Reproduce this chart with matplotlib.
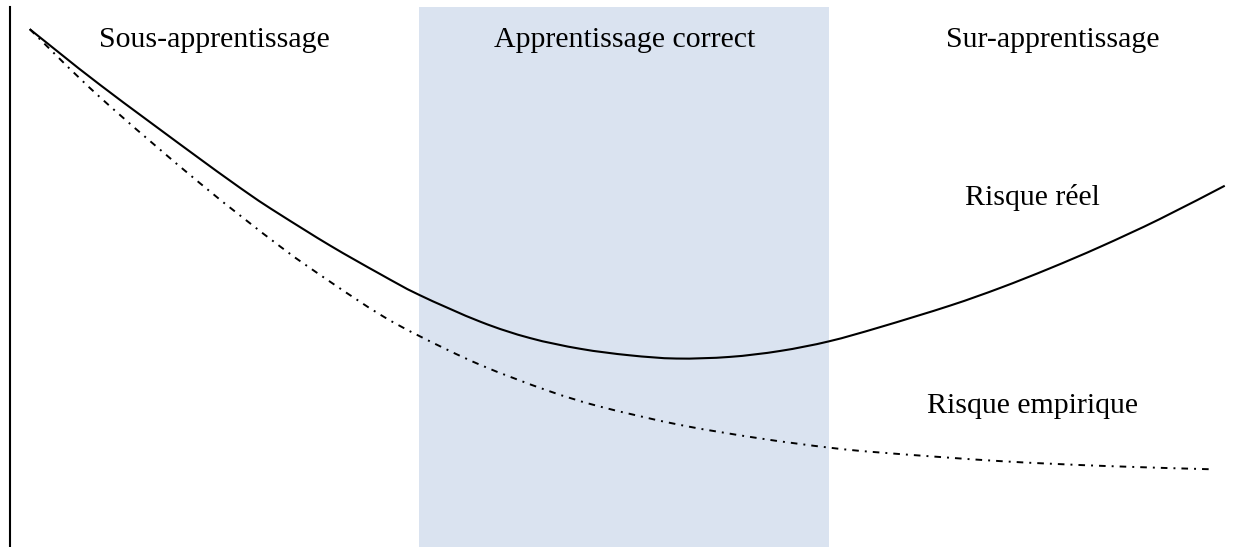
import numpy as np
import matplotlib.pyplot as plt
from matplotlib.path import Path
from matplotlib.patches import PathPatch

# model complexity (0-100) and risk (0-100)
complexity_reel = [1.6, 7.3, 15.4, 19.5, 21.9, 26.0, 30.0, 33.2, 38.2, 42.2, 46.3, 50.3,
                   54.1, 58.4, 62.5, 66.5, 70.6, 76.3, 80.4, 84.4, 88.5, 93.3, 98.6]
risque_reel = [95.9, 85.6, 71.9, 65.2, 61.6, 55.8, 50.6, 46.7, 41.7, 38.7, 36.7, 35.5,
               34.9, 35.2, 36.3, 38.1, 40.7, 44.7, 48.0, 51.6, 55.6, 60.7, 66.9]

complexity_emp = [1.6, 7.3, 15.4, 21.9, 26.0, 30.0, 33.2, 38.2, 43.6, 47.9, 54.4,
                  60.9, 66.5, 70.6, 80.4, 88.9, 97.4]
risque_emp = [95.9, 83.3, 67.4, 55.7, 49.1, 43.1, 39.1, 33.7, 29.0, 26.0, 22.6,
              20.1, 18.4, 17.5, 15.9, 15.0, 14.4]

zone_correcte = (33.2, 66.5)

zone_labels = ['Sous-apprentissage', 'Apprentissage correct', 'Sur-apprentissage']
zone_label_x = [16.6, 49.9, 84.6]
curve_labels = ['Risque réel', 'Risque empirique']
curve_label_x = [83.0, 83.0]
curve_label_y = [63.3, 24.8]


def smooth_path(xs, ys):
    # catmull-rom through the points, drawn as cubic bezier segments
    p = np.column_stack([xs, ys]).astype(float)
    verts = [p[0]]
    codes = [Path.MOVETO]
    n = len(p)
    for i in range(n - 1):
        p0 = p[i - 1] if i > 0 else p[i]
        p3 = p[i + 2] if i + 2 < n else p[i + 1]
        c1 = p[i] + (p[i + 1] - p0) / 6.0
        c2 = p[i + 1] - (p3 - p[i]) / 6.0
        verts += [c1, c2, p[i + 1]]
        codes += [Path.CURVE4] * 3
    return Path(verts, codes)


plt.rcParams['font.family'] = ['Liberation Serif', 'DejaVu Serif']

fig = plt.figure(figsize=(12.42, 5.47), dpi=100)
ax = fig.add_axes([10 / 1242, 0, 1232 / 1242, 540 / 547])
ax.set_xlim(0, 100)
ax.set_ylim(0, 100)

ax.axvspan(zone_correcte[0], zone_correcte[1], color='#dae3f0', lw=0, zorder=0)

ax.add_patch(PathPatch(smooth_path(complexity_reel, risque_reel), fill=False,
                       edgecolor='black', lw=1.5, zorder=3))
ax.add_patch(PathPatch(smooth_path(complexity_emp, risque_emp), fill=False,
                       edgecolor='black', lw=1.4,
                       linestyle=(0, (3.4, 3.1, 1.0, 3.1)), zorder=3))

for lab, x in zip(zone_labels, zone_label_x):
    ax.text(x, 92.6, lab, ha='center', va='baseline', fontsize=21.5)
for lab, x, y in zip(curve_labels, curve_label_x, curve_label_y):
    ax.text(x, y, lab, ha='center', va='baseline', fontsize=21.5)

for s in ['top', 'right', 'bottom']:
    ax.spines[s].set_visible(False)
ax.spines['left'].set_linewidth(1.5)
ax.set_xticks([])
ax.set_yticks([])

fig.savefig('out.png', dpi=100)
